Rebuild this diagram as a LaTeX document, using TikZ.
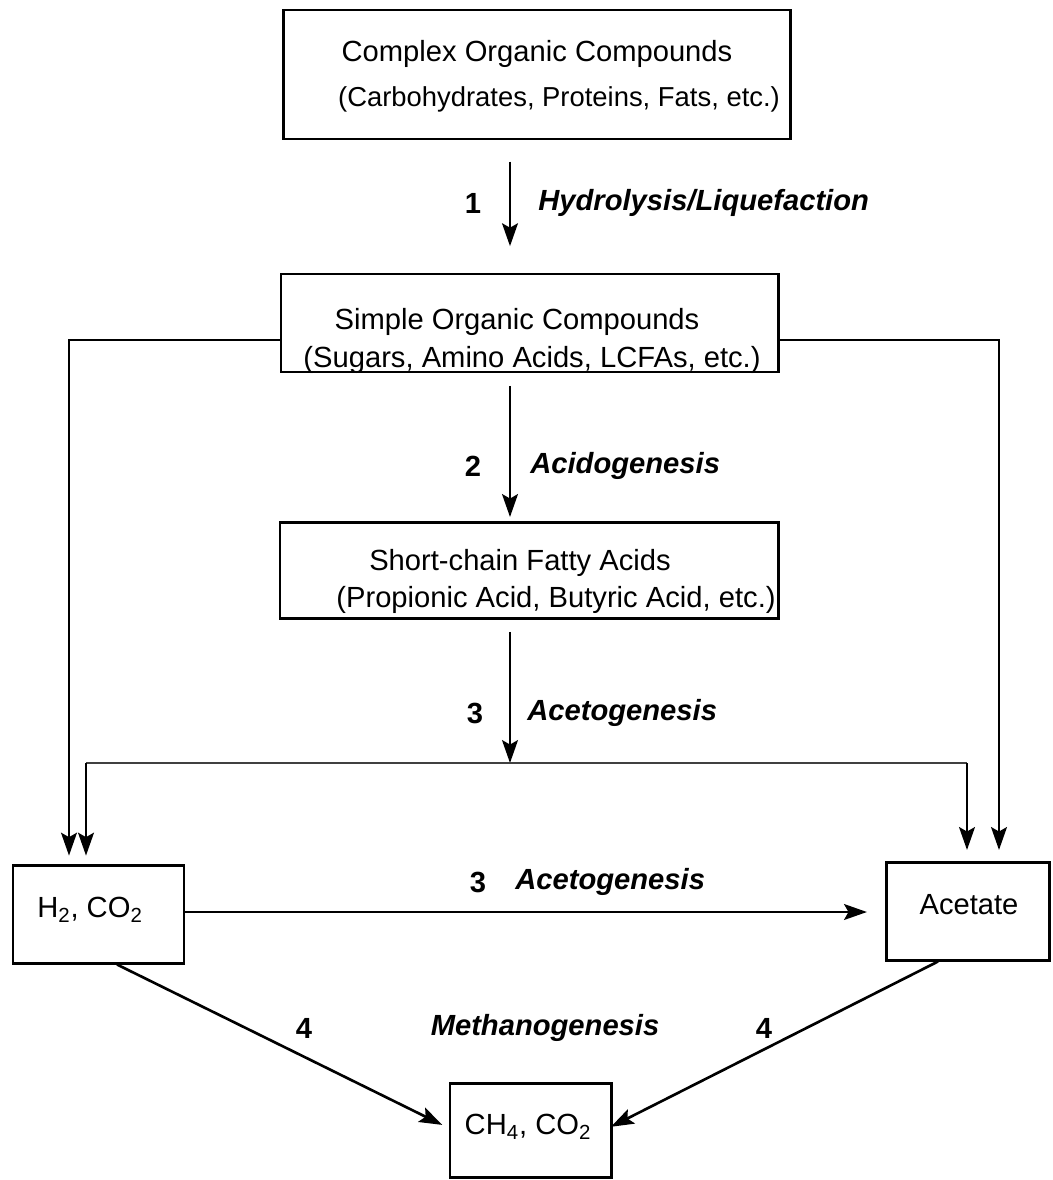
\documentclass[tikz,border=0pt]{standalone}
\usepackage{fontspec}
\setmainfont{Liberation Sans}
\usepackage{tikz}
\usetikzlibrary{calc}
\usetikzlibrary{arrows.meta}
\usetikzlibrary{positioning}
\tikzset{>={Stealth[length=13pt,width=9pt,inset=2.5pt]}}
\tikzstyle{stage} = [rectangle, draw = black, line width = 1.7pt, inner sep = 0]
\tikzstyle{txt} = [draw = none, inner sep = 0, font = \fontsize{16.6}{20}\selectfont]
\tikzstyle{phase} = [draw = none, inner sep = 0, font = \fontsize{16.6}{20}\selectfont\bfseries\itshape]
\tikzstyle{flow} = [->, line width = 1.5pt]

\begin{document}
\begin{tikzpicture}[x = 0.02cm, y = -0.02cm]
\useasboundingbox (0, 0) rectangle (1052, 1180);
% boxes
\node [stage, minimum width = 507*0.02cm, minimum height = 129*0.02cm] (complex) at (537, 74.5) {};
\node [stage, minimum width = 497*0.02cm, minimum height = 98*0.02cm] (simple) at (529.5, 323) {};
\node [stage, minimum width = 498*0.02cm, minimum height = 96*0.02cm] (scfa) at (529, 570) {};
\node [stage, minimum width = 171*0.02cm, minimum height = 98*0.02cm] (htwo) at (98.5, 914) {};
\node [stage, minimum width = 163*0.02cm, minimum height = 98*0.02cm] (acetate) at (967.5, 911) {};
\node [stage, minimum width = 161*0.02cm, minimum height = 94*0.02cm] (methane) at (530.5, 1130) {};
% box texts
\node [txt] (complexA) at (537, 54) {Complex Organic Compounds};
\node [txt, font = \fontsize{15.6}{19}\selectfont] (complexB) at (559, 99) {(Carbohydrates, Proteins, Fats, etc.)};
\node [txt] (simpleA) at (517, 322) {Simple Organic Compounds};
\node [txt] (simpleB) at (532, 360) {(Sugars, Amino Acids, LCFAs, etc.)};
\node [txt] (scfaA) at (520, 563) {Short-chain Fatty Acids};
\node [txt] (scfaB) at (556, 600) {(Propionic Acid, Butyric Acid, etc.)};
\node [txt] (htwoT) at (90, 910) {H\textsubscript{2}, CO\textsubscript{2}};
\node [txt] (acetateT) at (969, 905) {Acetate};
\node [txt] (methaneT) at (528, 1127) {CH\textsubscript{4}, CO\textsubscript{2}};
% step labels
\node [phase] (n1) at (473, 203) {\upshape 1};
\node [phase, anchor = west] (s1) at (538, 203) {Hydrolysis/Liquefaction};
\node [phase] (n2) at (473, 466) {\upshape 2};
\node [phase, anchor = west] (s2) at (530, 466) {Acidogenesis};
\node [phase] (n3) at (475, 713) {\upshape 3};
\node [phase, anchor = west] (s3) at (527, 713) {Acetogenesis};
\node [phase] (n3b) at (478, 882) {\upshape 3};
\node [phase, anchor = west] (s3b) at (515, 882) {Acetogenesis};
\node [phase] (n4a) at (304, 1028) {\upshape 4};
\node [phase] (s4) at (545, 1028) {Methanogenesis};
\node [phase] (n4b) at (764, 1028) {\upshape 4};
% helper points
\coordinate (mid) at (510, 0);
\coordinate (split) at (510, 763);
\coordinate (outL) at (69, 340);
\coordinate (outR) at (999, 340);
\coordinate (inL) at (86, 763);
\coordinate (inR) at (967, 763);
% main chain
\draw [flow, shorten <= 12pt, shorten >= 15pt] (complex.south -| mid) to (simple.north -| mid);
\draw [flow, shorten <= 7pt, shorten >= 2pt] (simple.south -| mid) to (scfa.north -| mid);
\draw [flow, shorten <= 7pt] (scfa.south -| mid) to (split);
% branch after acetogenesis
\draw [line width = 1pt, black!75] (inL) -- (inR);
\draw [flow, shorten >= 4.5pt] (inL) to (inL |- htwo.north);
\draw [flow, shorten >= 6pt] (inR) to (inR |- acetate.north);
% bypass from simple compounds
\draw [flow, shorten >= 4.5pt] (simple.west |- outL) -- (outL) -- (outL |- htwo.north);
\draw [flow, shorten >= 6pt] (simple.east |- outR) -- (outR) -- (outR |- acetate.north);
% lower part
\draw [flow, shorten >= 10pt] ($(htwo.east) + (0, -2)$) to ($(acetate.west) + (0, 1)$);
\draw [flow, shorten >= 4pt] ($(htwo.south) + (18.5, 0)$) to ($(methane.west) + (0, -2)$);
\draw [flow, shorten >= -1pt] ($(acetate.south) + (-29.5, 0)$) to ($(methane.east) + (0, -4)$);
\end{tikzpicture}
\end{document}
